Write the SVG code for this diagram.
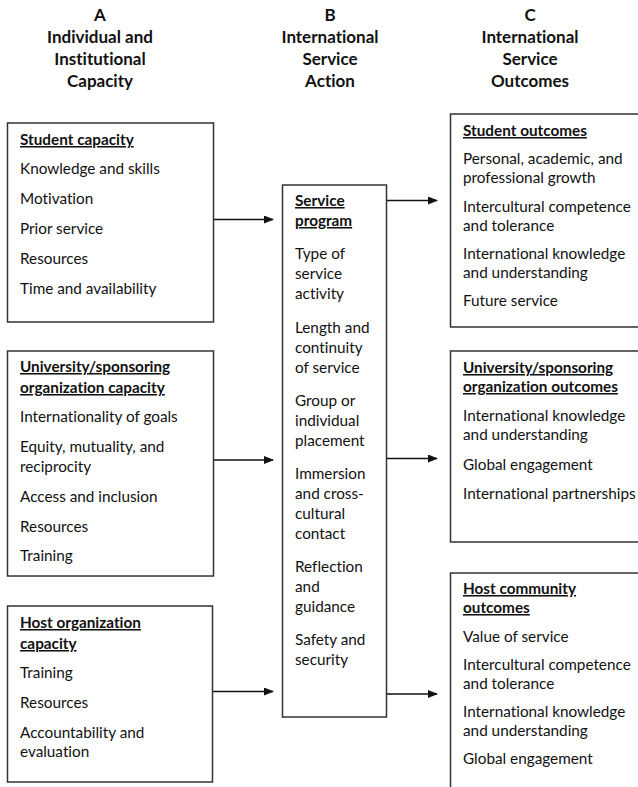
<svg xmlns="http://www.w3.org/2000/svg" width="638" height="787" viewBox="0 0 638 787">
<defs>
<style>
text{font-family:Lato,"Open Sans","Liberation Sans",sans-serif;fill:#111;font-size:15.3px;font-variant-ligatures:none}
.hd{font-weight:bold;font-size:17px;text-anchor:middle}
.t{font-weight:bold;text-decoration:underline}
.box{fill:#fff;stroke:#333;stroke-width:1.5}
.conn{stroke:#111;stroke-width:1.5;fill:none}
</style>
<marker id="ah" markerWidth="10" markerHeight="8" refX="9" refY="4" orient="auto" markerUnits="userSpaceOnUse">
<path d="M0,0 L10,4 L0,8 Z" fill="#111"/>
</marker>
</defs>
<rect width="638" height="787" fill="#fff"/>
<g id="headers">
<text class="hd" x="100" y="21">A</text>
<text class="hd" x="100" y="43">Individual and</text>
<text class="hd" x="100" y="65">Institutional</text>
<text class="hd" x="100" y="87">Capacity</text>
<text class="hd" x="330" y="21">B</text>
<text class="hd" x="330" y="43">International</text>
<text class="hd" x="330" y="65">Service</text>
<text class="hd" x="330" y="87">Action</text>
<text class="hd" x="530" y="21">C</text>
<text class="hd" x="530" y="43">International</text>
<text class="hd" x="530" y="65">Service</text>
<text class="hd" x="530" y="87">Outcomes</text>
</g>
<g id="student-capacity">
<rect class="box" x="7.5" y="123" width="206" height="199"/>
<text class="t" x="20" y="145">Student capacity</text>
<text x="20" y="174">Knowledge and skills</text>
<text x="20" y="204">Motivation</text>
<text x="20" y="234">Prior service</text>
<text x="20" y="264">Resources</text>
<text x="20" y="294">Time and availability</text>
</g>
<g id="university-capacity">
<rect class="box" x="7.5" y="351" width="206" height="225"/>
<text class="t" x="20" y="372">University/sponsoring</text>
<text class="t" x="20" y="393">organization capacity</text>
<text x="20" y="422">Internationality of goals</text>
<text x="20" y="452">Equity, mutuality, and</text>
<text x="20" y="472">reciprocity</text>
<text x="20" y="502">Access and inclusion</text>
<text x="20" y="532">Resources</text>
<text x="20" y="561">Training</text>
</g>
<g id="host-capacity">
<rect class="box" x="7.5" y="606" width="205" height="176"/>
<text class="t" x="20" y="628">Host organization</text>
<text class="t" x="20" y="649">capacity</text>
<text x="20" y="678">Training</text>
<text x="20" y="708">Resources</text>
<text x="20" y="738">Accountability and</text>
<text x="20" y="757">evaluation</text>
</g>
<g id="service-program">
<rect class="box" x="282.5" y="185" width="104" height="532"/>
<text class="t" x="295" y="206">Service</text>
<text class="t" x="295" y="226">program</text>
<text x="295" y="259">Type of</text>
<text x="295" y="279">service</text>
<text x="295" y="299">activity</text>
<text x="295" y="333">Length and</text>
<text x="295" y="353">continuity</text>
<text x="295" y="373">of service</text>
<text x="295" y="406">Group or</text>
<text x="295" y="426">individual</text>
<text x="295" y="446">placement</text>
<text x="295" y="479">Immersion</text>
<text x="295" y="499">and cross-</text>
<text x="295" y="519">cultural</text>
<text x="295" y="539">contact</text>
<text x="295" y="572">Reflection</text>
<text x="295" y="592">and</text>
<text x="295" y="612">guidance</text>
<text x="295" y="645">Safety and</text>
<text x="295" y="665">security</text>
</g>
<g id="student-outcomes">
<rect class="box" x="450.5" y="114" width="200" height="213"/>
<text class="t" x="463" y="136">Student outcomes</text>
<text x="463" y="164">Personal, academic, and</text>
<text x="463" y="183">professional growth</text>
<text x="463" y="212">Intercultural competence</text>
<text x="463" y="231">and tolerance</text>
<text x="463" y="259">International knowledge</text>
<text x="463" y="278">and understanding</text>
<text x="463" y="306">Future service</text>
</g>
<g id="university-outcomes">
<rect class="box" x="450.5" y="351" width="200" height="191"/>
<text class="t" x="463" y="373">University/sponsoring</text>
<text class="t" x="463" y="392">organization outcomes</text>
<text x="463" y="421">International knowledge</text>
<text x="463" y="440">and understanding</text>
<text x="463" y="470">Global engagement</text>
<text x="463" y="499">International partnerships</text>
</g>
<g id="host-outcomes">
<rect class="box" x="450.5" y="573" width="200" height="230"/>
<text class="t" x="463" y="594">Host community</text>
<text class="t" x="463" y="613">outcomes</text>
<text x="463" y="642">Value of service</text>
<text x="463" y="670">Intercultural competence</text>
<text x="463" y="689">and tolerance</text>
<text x="463" y="717">International knowledge</text>
<text x="463" y="736">and understanding</text>
<text x="463" y="764">Global engagement</text>
</g>
<g id="connectors">
<line class="conn" x1="214" y1="219.5" x2="273" y2="219.5" marker-end="url(#ah)"/>
<line class="conn" x1="214" y1="460" x2="273" y2="460" marker-end="url(#ah)"/>
<line class="conn" x1="213" y1="691.5" x2="273" y2="691.5" marker-end="url(#ah)"/>
<line class="conn" x1="387" y1="200.5" x2="437" y2="200.5" marker-end="url(#ah)"/>
<line class="conn" x1="387" y1="458.5" x2="437" y2="458.5" marker-end="url(#ah)"/>
<line class="conn" x1="387" y1="694" x2="437" y2="694" marker-end="url(#ah)"/>
</g>
</svg>
